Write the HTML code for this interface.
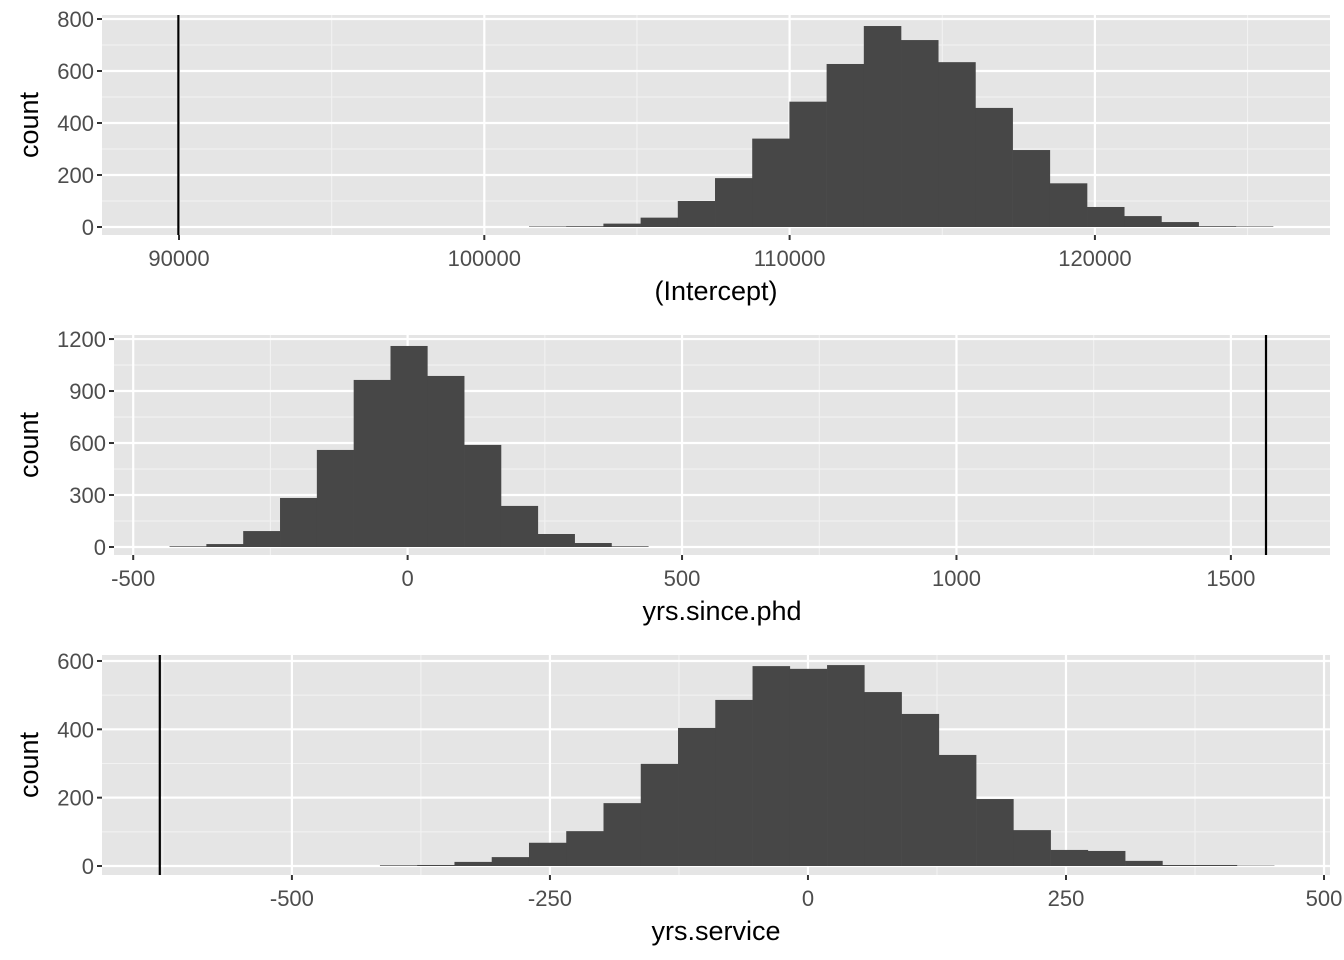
<!DOCTYPE html>
<html><head><meta charset="utf-8"><style>
html,body{margin:0;padding:0;background:#fff;}
svg{display:block;font-family:"Liberation Sans",Arial,sans-serif;}
</style></head><body>
<svg id="chart" width="1344" height="960" viewBox="0 0 1344 960"></svg>
<script>
// Panel 1: (Intercept)
const p1Counts = [2,3,13,36,100,188,340,482,627,773,719,634,458,296,168,77,42,19,3,2];
const p1Start = 101464;
const p1BinWidth = 1218.5;
const p1Line = 89980;
const p1XTicks = [90000,100000,110000,120000];
const p1YTicks = [0,200,400,600,800];
// Panel 2: yrs.since.phd
const p2Counts = [4,17,92,283,560,964,1160,987,589,237,75,23,4];
const p2Start = -433.8;
const p2BinWidth = 67.1;
const p2Line = 1564;
const p2XTicks = [-500,0,500,1000,1500];
const p2YTicks = [0,300,600,900,1200];
// Panel 3: yrs.service
const p3Counts = [2,3,12,26,68,102,184,299,404,486,585,577,588,509,445,325,196,105,47,44,15,3,3,1];
const p3Start = -414.7;
const p3BinWidth = 36.1;
const p3Line = -628;
const p3XTicks = [-500,-250,0,250,500];
const p3YTicks = [0,200,400,600];

const svg = document.getElementById('chart');
const NS = 'http://www.w3.org/2000/svg';
function mk(tag, attrs, parent){
  const e = document.createElementNS(NS, tag);
  for (const k in attrs) e.setAttribute(k, attrs[k]);
  (parent||svg).appendChild(e);
  return e;
}

function panel(cfg){
  const g = mk('g', {});
  
  
  const L = cfg.left, R = 1330, T = cfg.top, B = cfg.bottom;
  const x = v => L + (v - cfg.xmin) / (cfg.xmax - cfg.xmin) * (R - L);
  const y = v => cfg.y0 - v * cfg.yscale;
  const bg = mk('rect', {x:L, y:T, width:R-L, height:B-T, fill:'#e5e5e5'}, g);
  
  
  const xt = cfg.xTicks, yt = cfg.yTicks;
  const dx = xt[1]-xt[0], dy = yt[1]-yt[0];
  for (let v = xt[0]-dx/2; v < cfg.xmax; v += dx) {
    if (v > cfg.xmin) mk('line', {x1:x(v), x2:x(v), y1:T, y2:B, stroke:'#f2f2f2', 'stroke-width':1.1}, g);
  }
  for (let v = yt[0]-dy/2; y(v) > T; v += dy) {
    if (y(v) < B) mk('line', {x1:L, x2:R, y1:y(v), y2:y(v), stroke:'#f2f2f2', 'stroke-width':1.1}, g);
  }
  xt.forEach(v => mk('line', {x1:x(v), x2:x(v), y1:T, y2:B, stroke:'#fff', 'stroke-width':2.2}, g));
  yt.forEach(v => mk('line', {x1:L, x2:R, y1:y(v), y2:y(v), stroke:'#fff', 'stroke-width':2.2}, g));
  cfg.counts.forEach((c, i) => {
    const x0 = x(cfg.start + i*cfg.bw), x1 = x(cfg.start + (i+1)*cfg.bw);
    const r = mk('rect', {x:x0, y:y(c), width:x1-x0+0.3, height:Math.max(0, y(0)-y(c)), fill:'#474747'}, g);
    
    
  });
  const vl = mk('line', {x1:x(cfg.line), x2:x(cfg.line), y1:T, y2:B, stroke:'#000', 'stroke-width':2.2}, g);
  
  
  xt.forEach(v => {
    mk('line', {x1:x(v), x2:x(v), y1:B, y2:B+5, stroke:'#333', 'stroke-width':2}, g);
    const t = mk('text', {x:x(v), y:B+31, 'text-anchor':'middle', 'font-size':22, fill:'#4d4d4d'}, g);
    t.textContent = v;
    
    
  });
  yt.forEach(v => {
    mk('line', {x1:L-5, x2:L, y1:y(v), y2:y(v), stroke:'#333', 'stroke-width':2}, g);
    const t = mk('text', {x:L-8, y:y(v)+8, 'text-anchor':'end', 'font-size':22, fill:'#4d4d4d'}, g);
    t.textContent = v;
    
    
  });
  const xtT = mk('text', {x:(L+R)/2, y:B+65, 'text-anchor':'middle', 'font-size':27, fill:'#000'}, g);
  xtT.textContent = cfg.title;
  
  
  const cy = (T+B)/2;
  const ytT = mk('text', {x:0, y:0, transform:`translate(38,${cy}) rotate(-90)`, 'text-anchor':'middle', 'font-size':27, fill:'#000'}, g);
  ytT.textContent = 'count';
  
  
}

panel({name:'intercept', left:102, top:15, bottom:235, xmin:87478, xmax:127700, y0:227, yscale:0.26,
  counts:p1Counts, start:p1Start, bw:p1BinWidth, line:p1Line, xTicks:p1XTicks, yTicks:p1YTicks, title:'(Intercept)'});
panel({name:'yrs-since-phd', left:114, top:335, bottom:555, xmin:-535, xmax:1680.6, y0:547, yscale:0.1733,
  counts:p2Counts, start:p2Start, bw:p2BinWidth, line:p2Line, xTicks:p2XTicks, yTicks:p2YTicks, title:'yrs.since.phd'});
panel({name:'yrs-service', left:102, top:655, bottom:875, xmin:-684, xmax:505.8, y0:866, yscale:0.3417,
  counts:p3Counts, start:p3Start, bw:p3BinWidth, line:p3Line, xTicks:p3XTicks, yTicks:p3YTicks, title:'yrs.service'});
</script>
</body></html>
